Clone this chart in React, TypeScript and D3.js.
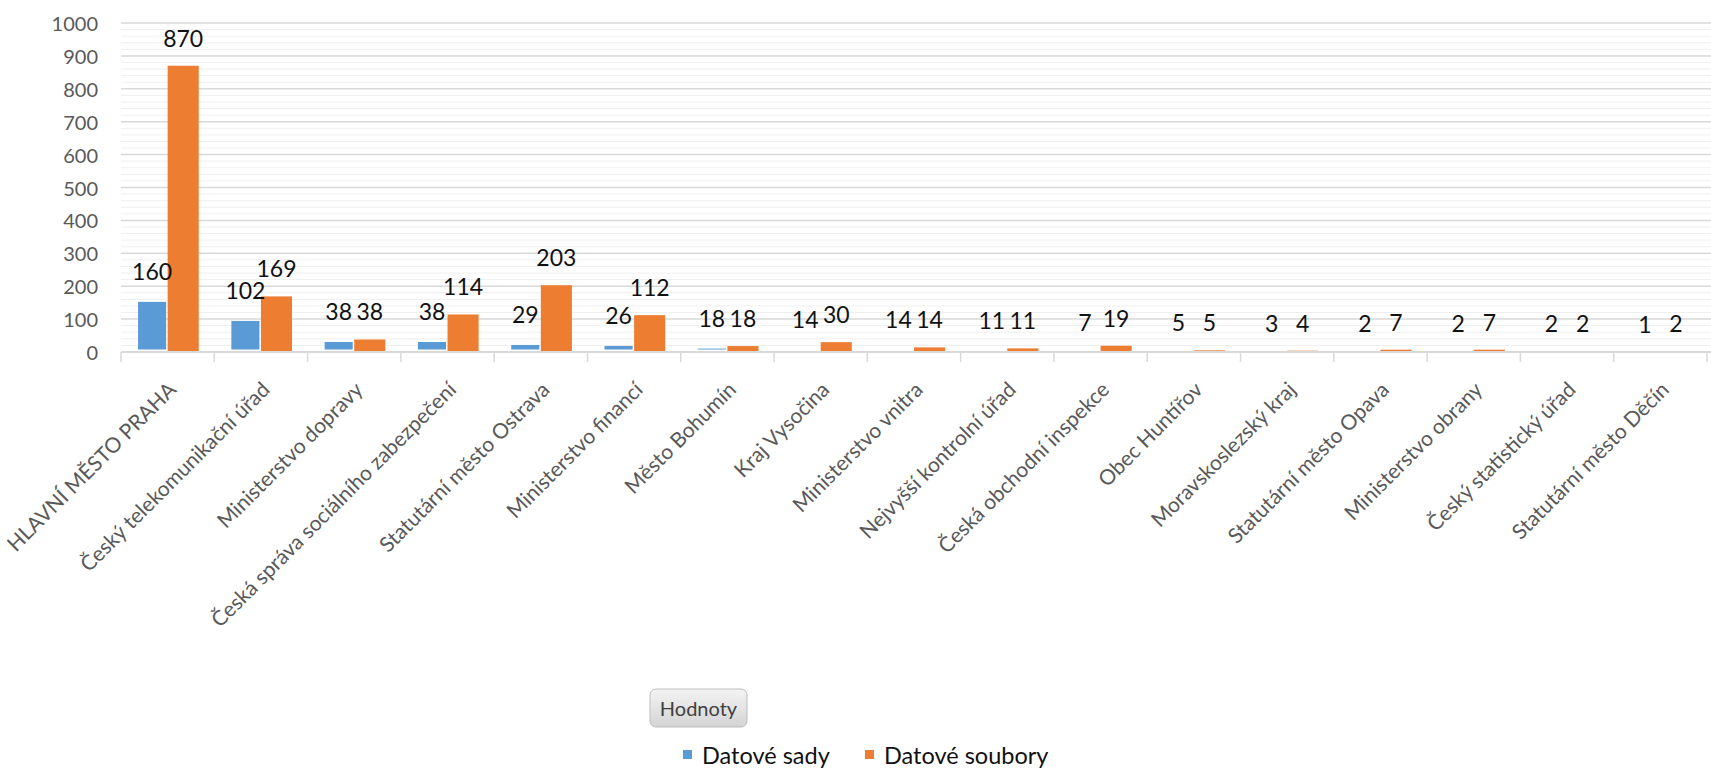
import React from "react";
import * as d3 from "d3";

const categories = [
  "HLAVNÍ MĚSTO PRAHA",
  "Český telekomunikační úřad",
  "Ministerstvo dopravy",
  "Česká správa sociálního zabezpečení",
  "Statutární město Ostrava",
  "Ministerstvo financí",
  "Město Bohumín",
  "Kraj Vysočina",
  "Ministerstvo vnitra",
  "Nejvyšší kontrolní úřad",
  "Česká obchodní inspekce",
  "Obec Huntířov",
  "Moravskoslezský kraj",
  "Statutární město Opava",
  "Ministerstvo obrany",
  "Český statistický úřad",
  "Statutární město Děčín",
];
const datoveSady = [160, 102, 38, 38, 29, 26, 18, 14, 14, 11, 7, 5, 3, 2, 2, 2, 1];
const datoveSoubory = [870, 169, 38, 114, 203, 112, 18, 30, 14, 11, 19, 5, 4, 7, 7, 2, 2];
const seriesNames = ["Datové sady", "Datové soubory"];
const seriesColors = ["#5B9BD5", "#ED7D31"];
const yTicks = [0, 100, 200, 300, 400, 500, 600, 700, 800, 900, 1000];
const filterLabel = "Hodnoty";

const W = 1711;
const H = 770;
const M = { left: 121, right: 1707, top: 23, bottom: 352 };
const FONT = "Lato, 'Open Sans', sans-serif";

export default function App() {
  const x0 = d3.scaleBand<string>().domain(categories).range([M.left, M.right]).padding(0);
  const bw = x0.bandwidth();
  const x1 = d3.scaleBand<string>().domain(seriesNames).range([bw / 6, (bw * 5) / 6]).padding(0);
  const y = d3.scaleLinear().domain([0, 1000]).range([M.bottom, M.top]);
  const minorTicks = d3.range(0, 1001, 20).filter((v) => v % 100 !== 0);
  const series = [datoveSady, datoveSoubory];

  return (
    <svg
      width={W}
      height={H}
      style={{ position: "absolute", left: 0, top: 0, background: "#fff" }}
      fontFamily={FONT}
    >
      <defs>
        <linearGradient id="btn" x1="0" y1="0" x2="0" y2="1">
          <stop offset="0" stopColor="#F4F4F4" />
          <stop offset="1" stopColor="#D4D4D4" />
        </linearGradient>
      </defs>
      {/* minor grid */}
      {minorTicks.map((v) => (
        <line key={"m" + v} x1={M.left} x2={W} y1={y(v)} y2={y(v)} stroke="#EFEFEF" strokeWidth={1} />
      ))}
      {/* major grid */}
      {yTicks.map((v) => (
        <line key={"g" + v} x1={M.left} x2={W} y1={y(v)} y2={y(v)} stroke="#D9D9D9" strokeWidth={1.5} />
      ))}
      {/* y labels */}
      {yTicks.map((v) => (
        <text
          key={"yl" + v}
          x={98}
          y={y(v)}
          textAnchor="end"
          dominantBaseline="central"
          fontSize={20}
          fill="#595959"
        >
          {v}
        </text>
      ))}
      {/* x ticks */}
      {categories.map((c, i) => (
        <line
          key={"t" + i}
          x1={x0(c)!}
          x2={x0(c)!}
          y1={M.bottom}
          y2={M.bottom + 10}
          stroke="#D9D9D9"
          strokeWidth={1.5}
        />
      ))}
      <line x1={M.right} x2={M.right} y1={M.bottom} y2={M.bottom + 10} stroke="#D9D9D9" strokeWidth={1.5} />
      {/* bars */}
      {series.map((vals, s) =>
        categories.map((c, i) => {
          const bx = x0(c)! + x1(seriesNames[s])!;
          const by = y(vals[i]);
          const bh = y(0) - by;
          const inset = s === 0 ? 1.5 : 0;
          const insetY = s === 0 ? 2.5 : 0;
          const h = Math.max(0, bh - insetY * 2);
          return (
            <rect
              key={"b" + s + "-" + i}
              x={bx + inset}
              y={by + insetY}
              width={x1.bandwidth() - inset * 2}
              height={h}
              fill={seriesColors[s]}
            />
          );
        })
      )}
      {/* axis line */}
      <line x1={M.left} x2={W} y1={M.bottom} y2={M.bottom} stroke="#D9D9D9" strokeWidth={2} />
      {/* value labels */}
      {series.map((vals, s) =>
        categories.map((c, i) => (
          <text
            key={"v" + s + "-" + i}
            x={x0(c)! + x1(seriesNames[s])! + x1.bandwidth() / 2}
            y={y(vals[i]) - 28}
            textAnchor="middle"
            dominantBaseline="central"
            fontSize={23}
            fill="#111"
          >
            {vals[i]}
          </text>
        ))
      )}
      {/* x labels */}
      {categories.map((c, i) => (
        <text
          key={"xl" + i}
          transform={`translate(${x0(c)! + bw / 2 + 4},${M.bottom + 33}) rotate(-45)`}
          textAnchor="end"
          dominantBaseline="central"
          fontSize={21}
          fill="#595959"
        >
          {c}
        </text>
      ))}
      {/* filter button */}
      <rect x={650} y={689} width={97} height={38} rx={6} fill="url(#btn)" stroke="#BDBDBD" strokeWidth={1} />
      <text x={698.5} y={708} textAnchor="middle" dominantBaseline="central" fontSize={20} fill="#404040">
        {filterLabel}
      </text>
      {/* legend */}
      {seriesNames.map((n, s) => {
        const lx = s === 0 ? 683 : 865;
        return (
          <g key={"lg" + s}>
            <rect x={lx} y={750} width={9} height={9} fill={seriesColors[s]} />
            <text x={lx + 19} y={755} dominantBaseline="central" fontSize={23.5} fill="#111">
              {n}
            </text>
          </g>
        );
      })}
    </svg>
  );
}
